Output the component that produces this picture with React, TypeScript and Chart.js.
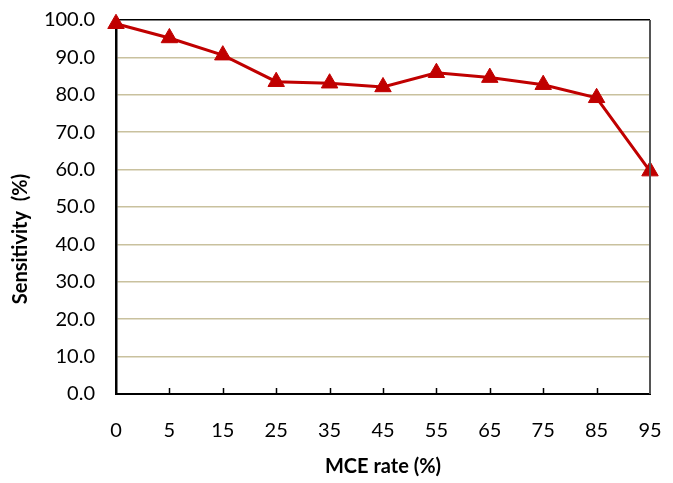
import React, { useEffect, useRef } from "react";
import { Chart, registerables } from "chart.js";

Chart.register(...registerables);

const categories = ["0", "5", "15", "25", "35", "45", "55", "65", "75", "85", "95"];
const sensitivity = [99.0, 95.2, 90.6, 83.5, 83.1, 82.1, 85.9, 84.6, 82.7, 79.2, 59.6];
const xTitle = "MCE rate (%)";
const yTitle = "Sensitivity  (%)";

const FONT = "Lato, 'Open Sans', sans-serif";

const framePlugin = {
  id: "frame",
  afterDraw(chart: any) {
    const { ctx, chartArea, scales } = chart;
    const x = scales.x;
    ctx.save();
    ctx.strokeStyle = "#555555";
    ctx.lineWidth = 2;
    ctx.beginPath();
    ctx.moveTo(chartArea.right, chartArea.top);
    ctx.lineTo(chartArea.right, chartArea.bottom);
    ctx.stroke();
    ctx.strokeStyle = "#000000";
    ctx.lineWidth = 1.5;
    for (let i = 1; i < categories.length - 1; i++) {
      const px = Math.round(x.getPixelForTick(i)) + 0.5;
      ctx.beginPath();
      ctx.moveTo(px, chartArea.bottom);
      ctx.lineTo(px, chartArea.bottom - 6);
      ctx.stroke();
    }
    // y axis title (placed lower than centre, as in the reference)
    ctx.translate(21, chartArea.bottom - 155);
    ctx.rotate(-Math.PI / 2);
    ctx.fillStyle = "#000000";
    ctx.font = `bold 20px ${FONT}`;
    ctx.textAlign = "center";
    ctx.textBaseline = "middle";
    ctx.fillText(yTitle, 0, 0);
    ctx.restore();
  },
};

export default function App() {
  const ref = useRef<HTMLCanvasElement | null>(null);
  useEffect(() => {
    if (!ref.current) return;
    const chart = new Chart(ref.current, {
      type: "line",
      data: {
        labels: categories,
        datasets: [
          {
            data: sensitivity,
            borderColor: "#c00000",
            backgroundColor: "#c00000",
            borderWidth: 3,
            pointStyle: "triangle",
            pointRadius: 9.5,
            pointBorderWidth: 1,
            tension: 0,
            clip: false,
          },
        ],
      },
      options: {
        animation: false,
        responsive: false,
        layout: { padding: { left: 0, top: 20, right: 23, bottom: 0 } },
        plugins: { legend: { display: false }, tooltip: { enabled: false } },
        scales: {
          x: {
            offset: false,
            afterFit: (s: any) => {
              s.height = 89;
              s.paddingLeft = 0;
              s.paddingRight = 0;
            },
            grid: { display: false, drawTicks: false },
            border: { display: true, color: "#000000", width: 2 },
            ticks: {
              padding: 25,
              color: "#000000",
              font: { family: FONT, size: 20 },
              maxRotation: 0,
              autoSkip: false,
            },
            title: {
              display: true,
              text: xTitle,
              color: "#000000",
              font: { family: FONT, size: 20, weight: "bold" },
              padding: { top: 0, bottom: 4 },
            },
          },
          y: {
            min: 0,
            max: 100,
            afterFit: (s: any) => {
              s.width = 116;
              s.paddingTop = 0;
              s.paddingBottom = 0;
            },
            grid: {
              drawTicks: false,
              lineWidth: 1.5,
              color: (c: any) => (c.tick && c.tick.value === 100 ? "#000000" : "#c9c19e"),
            },
            border: { display: true, color: "#000000", width: 2.5 },
            ticks: {
              stepSize: 10,
              padding: 21,
              color: "#000000",
              font: { family: FONT, size: 20 },
              callback: (v: any) => Number(v).toFixed(1),
            },
            title: { display: false },
          },
        },
      },
      plugins: [framePlugin],
    });
    return () => chart.destroy();
  }, []);
  return (
    <div style={{ position: "fixed", left: 0, top: 0, width: 673, height: 483, background: "#fff" }}>
      <canvas ref={ref} width={673} height={483} style={{ width: 673, height: 483 }} />
    </div>
  );
}
